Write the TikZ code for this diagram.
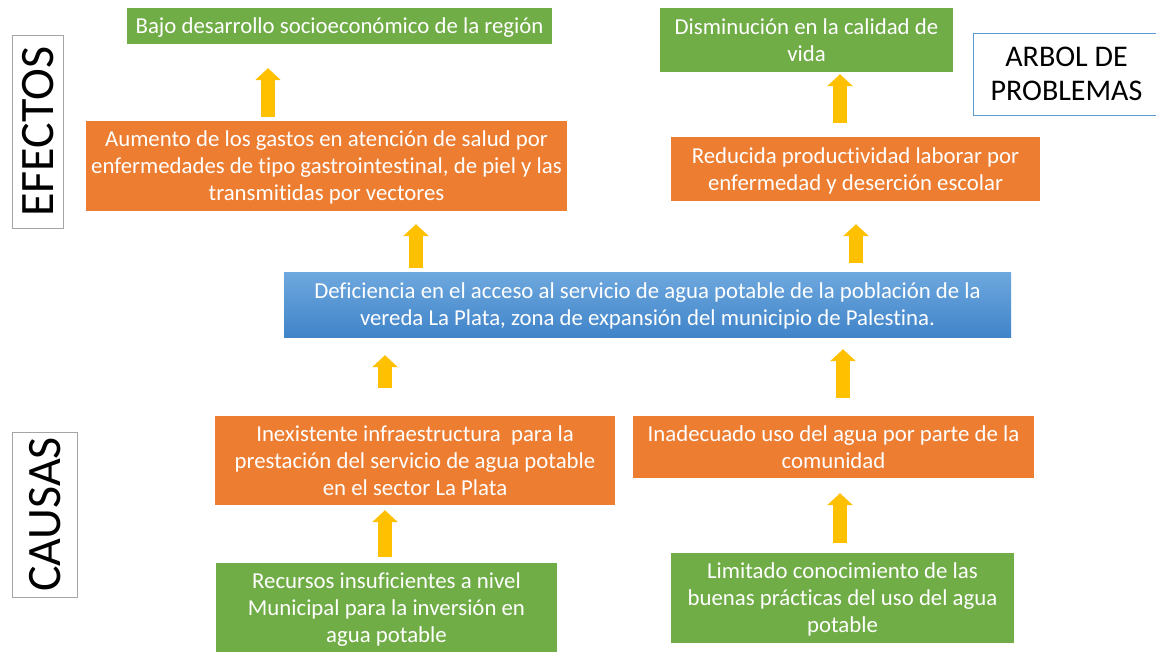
\documentclass[tikz,border=0pt]{standalone}
\usepackage{fontspec}
\setmainfont{Carlito}[Ligatures=NoCommon]
\usetikzlibrary{arrows.meta}

\begin{document}
\begin{tikzpicture}[x=1pt,y=-1pt]
    % set up office palette
    \definecolor{offOrange}{RGB}{237,125,49}
    \definecolor{offGreen}{RGB}{112,173,71}
    \definecolor{offGold}{RGB}{255,192,0}
    \definecolor{offBlueTop}{RGB}{110,168,222}
    \definecolor{offBlueBot}{RGB}{64,132,201}
    \definecolor{offBlueLine}{RGB}{91,155,213}
    \definecolor{offGrey}{RGB}{165,165,165}
    \tikzstyle{every node}=[font=\fontsize{22.8}{27}\selectfont, align=center, inner sep=0pt, text depth=0pt]
    \tikzstyle{cause}=[fill=offOrange, text=white]
    \tikzstyle{effect}=[fill=offGreen, text=white]
    \tikzstyle{sidelabel}=[draw=offGrey, line width=1pt, rotate=90, font=\fontsize{48}{54}\selectfont]
    \tikzstyle{uparrow}=[draw=offGold, line width=14pt, -{Triangle[width=25pt,length=12pt]}]

    \useasboundingbox (0,0) rectangle (1156,651);

    % efectos
    \node[effect, minimum width=425pt, minimum height=36pt] (bajo) at (339.5,26) {Bajo desarrollo socioeconómico de la región};
    \node[cause, minimum width=481pt, minimum height=90pt] (aumento) at (326.5,166) {Aumento de los gastos en atención de salud por\\enfermedades de tipo gastrointestinal, de piel y las\\transmitidas por vectores};
    \node[effect, minimum width=293pt, minimum height=64pt] (dismin) at (806.5,40) {Disminución en la calidad de\\vida};
    \node[cause, minimum width=369pt, minimum height=64pt] (reducida) at (855.5,169) {Reducida productividad laborar por\\enfermedad y deserción escolar};

    % problema central
    \node[top color=offBlueTop, bottom color=offBlueBot, text=white, minimum width=727pt, minimum height=65pt] (problema) at (647.5,304.5) {Deficiencia en el acceso al servicio de agua potable de la población de la\\vereda La Plata, zona de expansión del municipio de Palestina.};

    % causas
    \node[cause, minimum width=400pt, minimum height=89pt] (inexist) at (415,460.5) {Inexistente infraestructura \ para la\\prestación del servicio de agua potable\\en el sector La Plata};
    \node[cause, minimum width=401pt, minimum height=62pt] (inadec) at (833.5,447) {Inadecuado uso del agua por parte de la\\comunidad};
    \node[effect, minimum width=341pt, minimum height=89pt] (recursos) at (386.5,607.5) {Recursos insuficientes a nivel\\Municipal para la inversión en\\agua potable};
    \node[effect, minimum width=343pt, minimum height=90pt] (limitado) at (842.5,598) {Limitado conocimiento de las\\buenas prácticas del uso del agua\\potable};

    % side labels and title
    \node[sidelabel, minimum width=193pt, minimum height=51pt] (efectos) at (37.5,131.5) {EFECTOS};
    \node[sidelabel, minimum width=165pt, minimum height=65pt] (causas) at (44.5,514.5) {CAUSAS};
    \node[draw=offBlueLine, line width=1pt, minimum width=187pt, minimum height=82pt, font=\fontsize{30}{34}\selectfont] (arbol) at (1066.5,74) {ARBOL DE\\PROBLEMAS};

    % arrows between levels
    \foreach \src/\dst/\ax/\s/\e in {aumento/bajo/268/4/24, reducida/dismin/840/14/2,
      problema/aumento/416/4/13, problema/reducida/856/9/23,
      inexist/problema/385/28/18, inadec/problema/843/18/12,
      recursos/inexist/385/6/5, limitado/inadec/840/10/15}{
      \draw[uparrow, shorten <=\s pt, shorten >=\e pt] (\ax,0 |- \src.north) -- (\ax,0 |- \dst.south);
    }

\end{tikzpicture}
\end{document}
